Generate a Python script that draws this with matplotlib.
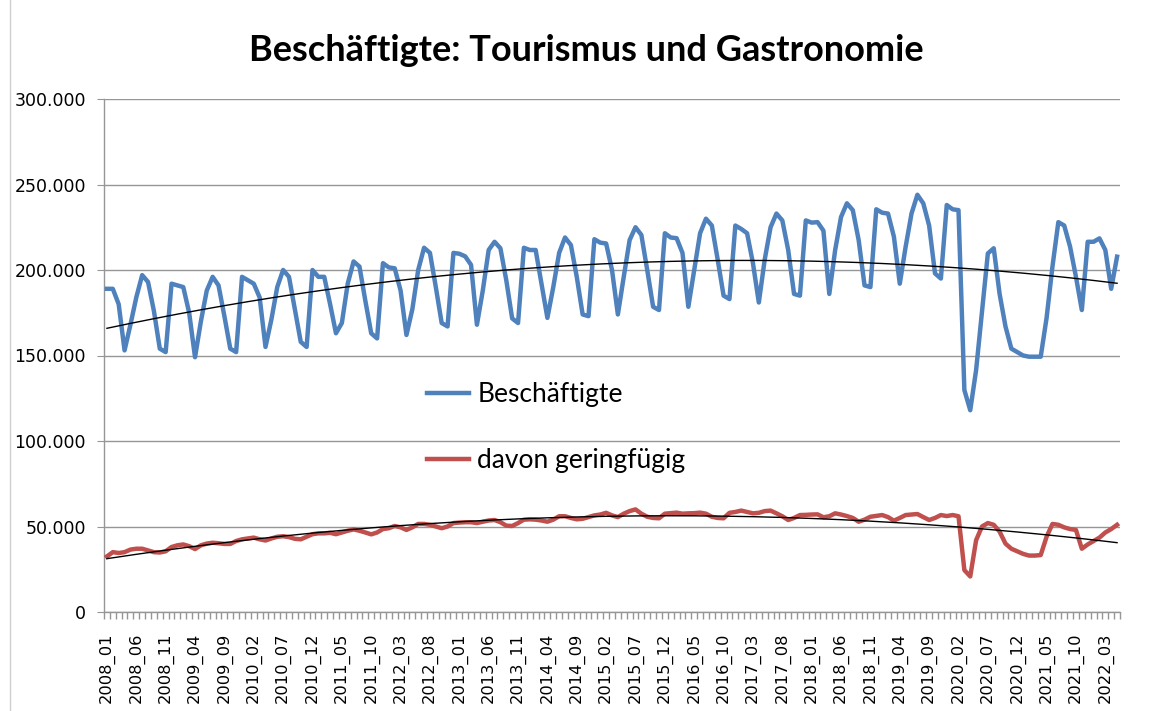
import numpy as np
import matplotlib.pyplot as plt
from matplotlib.ticker import FuncFormatter, FixedLocator
from matplotlib.lines import Line2D

# Monatswerte (in Tausend), 2008_01 bis 2022_05
beschaeftigte = [
    189, 189, 180, 153, 168, 184, 197, 193, 176, 154, 152, 192,        # 2008
    191, 190, 175, 149, 170, 188, 196, 191, 173, 154, 152, 196,        # 2009
    194, 192, 184, 155, 171, 190, 200, 196, 177, 158, 155, 200,        # 2010
    196, 196, 180, 163, 169, 192, 205, 202, 182, 163, 160, 204,        # 2011
    201.5, 201, 188, 162, 177, 200, 213, 210, 190, 169, 167, 210,      # 2012
    209.5, 208, 203, 168, 188, 211.7, 216.5, 212.7, 194, 171.7, 169, 213,  # 2013
    211.7, 211.7, 192, 172, 190, 210, 219, 214.6, 196, 174, 173, 218,  # 2014
    216, 215.5, 200, 174, 196, 217.5, 225, 220.5, 200, 178.5, 176.6, 221.5,  # 2015
    219, 218.6, 210, 178.5, 200, 221.5, 230, 226, 206, 185, 183, 226,  # 2016
    224, 221.5, 204, 181, 206, 225, 233, 229, 211.7, 186, 185, 229,    # 2017
    227.7, 228, 223, 186, 211.7, 231, 239, 235, 217.5, 191, 190, 235.5,  # 2018
    233.5, 233, 219.5, 192, 213.6, 233, 244, 239, 226, 198, 195, 238,  # 2019
    235.5, 235, 129.8, 118, 141.5, 175.6, 209.7, 212.7, 186, 167, 154, 152,  # 2020
    150, 149.3, 149.3, 149.3, 172, 202, 228, 226, 213.6, 196, 176.6, 216.5,  # 2021
    216.5, 218.5, 211.7, 189, 207.8,                                   # 2022
]
geringfuegig = [
    32.5, 35.0, 34.5, 35.0, 36.5, 37.0, 37.0, 36.0, 35.0, 34.8, 35.5, 38.0,
    39.0, 39.5, 38.5, 36.8, 39.0, 40.0, 40.5, 40.2, 39.8, 39.8, 41.5, 42.5,
    43.0, 43.5, 42.5, 41.8, 43.0, 44.0, 44.3, 43.8, 42.8, 42.5, 44.0, 45.5,
    46.0, 46.0, 46.3, 45.5, 46.5, 47.5, 48.3, 47.5, 46.5, 45.4, 46.5, 48.5,
    49.0, 50.3, 49.5, 48.0, 49.5, 51.5, 51.5, 51.0, 50.0, 49.0, 50.0, 52.0,
    52.3, 52.5, 52.5, 52.0, 52.8, 53.5, 53.8, 52.5, 50.5, 50.3, 52.0, 54.0,
    54.2, 54.0, 53.5, 52.8, 54.0, 56.0, 56.0, 55.0, 54.2, 54.5, 55.5, 56.5,
    57.0, 58.0, 56.5, 55.5, 57.5, 59.0, 60.0, 57.5, 55.7, 55.0, 54.8, 57.5,
    57.8, 58.1, 57.5, 57.7, 57.8, 58.1, 57.5, 55.7, 55.0, 54.8, 58.0, 58.5,
    59.3, 58.5, 57.7, 58.0, 59.0, 59.3, 57.7, 56.0, 53.8, 55.0, 56.7, 56.8,
    57.0, 57.1, 55.4, 56.0, 57.7, 57.0, 56.1, 55.0, 52.8, 54.0, 55.7, 56.2,
    56.7, 55.5, 53.4, 55.0, 56.7, 57.0, 57.3, 55.5, 53.8, 55.0, 56.7, 56.1,
    56.7, 56.0, 24.5, 20.8, 42.0, 50.0, 52.0, 51.0, 47.0, 40.0, 37.0, 35.5,
    34.0, 33.0, 33.0, 33.3, 44.0, 51.5, 51.0, 49.5, 48.5, 48.0, 37.0, 39.5,
    41.5, 43.5, 46.5, 48.5, 51.0,
]

monate = [f"{2008 + i // 12}_{i % 12 + 1:02d}" for i in range(len(beschaeftigte))]

y1 = np.array(beschaeftigte) * 1000
y2 = np.array(geringfuegig) * 1000
x = np.arange(len(y1))

# Polynomische Trendlinien (2. Ordnung), wie in Excel
trend1 = np.polyval(np.polyfit(x, y1, 2), x)
trend2 = np.polyval(np.polyfit(x, y2, 2), x)

fig = plt.figure(figsize=(11.52, 7.11), dpi=100)
ax = fig.add_axes([104 / 1152, 1 - 612 / 711, 1016 / 1152, 513 / 711])

grau = '#969696'
ax.plot(x, y1, color='#4F81BD', lw=3.2, solid_joinstyle='round', label='Beschäftigte', zorder=3)
ax.plot(x, y2, color='#C0504D', lw=3.2, solid_joinstyle='round', label='davon geringfügig', zorder=3)
ax.plot(x, trend1, color='black', lw=1, zorder=4)
ax.plot(x, trend2, color='black', lw=1, zorder=4)

ax.set_xlim(-0.5, len(x) - 0.5)
ax.set_ylim(0, 300000)
ax.set_yticks(np.arange(0, 300001, 50000))
ax.yaxis.set_major_formatter(FuncFormatter(lambda v, p: f"{int(v):,}".replace(',', '.')))
ax.grid(axis='y', color=grau, lw=1)
ax.set_axisbelow(True)

for s in ['top', 'right']:
    ax.spines[s].set_visible(False)
for s in ['left', 'bottom']:
    ax.spines[s].set_color(grau)
    ax.spines[s].set_linewidth(1)

ax.set_xticks(x[::5])
ax.set_xticklabels(monate[::5], rotation=90, fontsize=11.7, family='DejaVu Sans')
ax.xaxis.set_minor_locator(FixedLocator(np.arange(-0.5, len(x), 1)))
ax.tick_params(axis='x', which='major', length=0, pad=15)
ax.tick_params(axis='x', which='minor', length=5, color=grau, width=1)
ax.tick_params(axis='y', length=5, color=grau, labelsize=12.5, pad=8)
for t in ax.get_yticklabels():
    t.set_family('DejaVu Sans')

ax.legend(loc='upper left', bbox_to_anchor=(0.318, 0.448), frameon=False,
          prop={'family': 'Lato', 'size': 19}, labelspacing=1.55,
          handlelength=1.6, handletextpad=0.3, borderpad=0, borderaxespad=0)

fig.suptitle('Beschäftigte: Tourismus und Gastronomie', x=0.509, y=0.929, va='center',
             fontsize=26, fontweight='bold', family='Lato')

fig.add_artist(Line2D([9.5 / 1152, 9.5 / 1152], [0, 1], color='#d0d0d0', lw=1))

fig.savefig('out.png', dpi=100)
